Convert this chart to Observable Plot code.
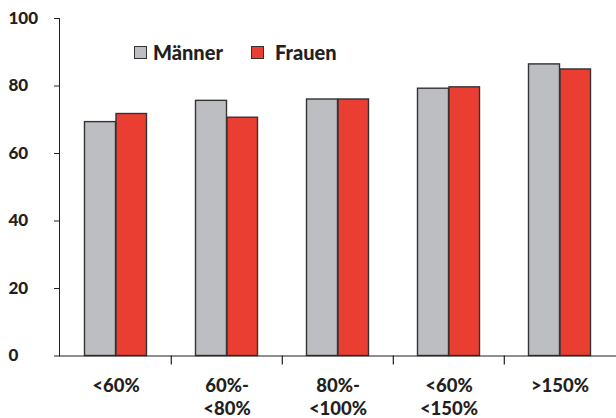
<!DOCTYPE html>
<html>
<head>
<meta charset="utf-8">
<script src="https://cdn.jsdelivr.net/npm/d3@7"></script>
<script src="https://cdn.jsdelivr.net/npm/@observablehq/plot@0.6"></script>
<style>
  html, body { margin: 0; padding: 0; background: #fff; }
  #wrap { position: relative; width: 616px; height: 418px; font-family: Lato, "Open Sans", sans-serif; color: #231f20; }
  .leg { position: absolute; top: 42px; font-weight: 900; font-size: 20px; line-height: 20px; display: flex; align-items: center; }
  .sw { width: 11px; height: 11px; border: 1.3px solid #333; margin-right: 6px; }
</style>
</head>
<body>
<div id="wrap"></div>
<script>
const cats = ["<60%", "60%-\n<80%", "80%-\n<100%", "<60%\n<150%", ">150%"];
const maenner = [69.3, 75.6, 76.0, 79.2, 86.4];
const frauen = [71.7, 70.6, 76.0, 79.6, 84.9];
const series = ["Männer", "Frauen"];
const colors = ["#bdbec2", "#ea3e33"];
const yTicks = [0, 20, 40, 60, 80, 100];

const dM = cats.map((c, i) => ({cat: c, sex: series[0], v: maenner[i]}));
const dF = cats.map((c, i) => ({cat: c, sex: series[1], v: frauen[i]}));

const bw = (616 - 59) / cats.length;

const chart = Plot.plot({
  width: 616,
  height: 418,
  marginLeft: 59,
  marginRight: 0,
  marginTop: 18,
  marginBottom: 62.5,
  style: {fontFamily: "Lato, 'Open Sans', sans-serif", color: "#231f20", background: "transparent"},
  x: {domain: cats, padding: 0, axis: null},
  y: {domain: [0, 100], ticks: yTicks, tickSize: 5, tickFormat: () => "", line: true, label: null},
  marks: [
    Plot.barY(dM, {x: "cat", y: "v", fill: colors[0], stroke: "#333", strokeWidth: 1.4, insetLeft: 24.5, insetRight: 55.5}),
    Plot.barY(dF, {x: "cat", y: "v", fill: colors[1], stroke: "#333", strokeWidth: 1.4, insetLeft: 56, insetRight: 24.5}),
    Plot.ruleY([0], {stroke: "#231f20", strokeWidth: 1.2}),
    Plot.ruleX(cats.slice(1), {x: d => d, dx: -bw / 2, insetTop: 337.5, insetBottom: -9, stroke: "#231f20", strokeWidth: 1.2}),
    Plot.text(yTicks, {y: d => d, text: d => String(d), frameAnchor: "left", dx: -51, textAnchor: "start", fontSize: 17, fontWeight: 900, fill: "#231f20"}),
    Plot.text(cats, {x: d => d, text: d => d, frameAnchor: "bottom", lineAnchor: "top", dy: 20, fontSize: 18.5, fontWeight: 900, lineHeight: 1.22, fill: "#231f20"})
  ]
});

const wrap = document.getElementById("wrap");
wrap.appendChild(chart);

series.forEach((s, i) => {
  const el = document.createElement("div");
  el.className = "leg";
  el.style.left = (i === 0 ? 134 : 251) + "px";
  const sw = document.createElement("span");
  sw.className = "sw";
  sw.style.background = colors[i];
  if (i === 1) sw.style.marginRight = "11px";
  el.appendChild(sw);
  el.appendChild(document.createTextNode(s));
  wrap.appendChild(el);
});
</script>
</body>
</html>
